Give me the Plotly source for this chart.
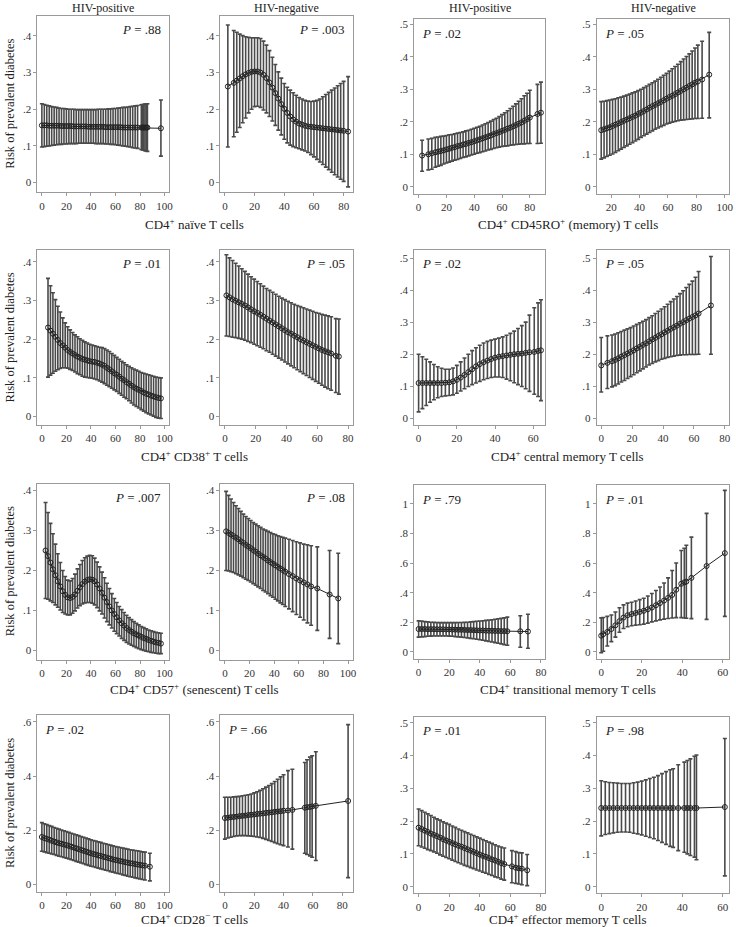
import plotly.graph_objects as go

# ---------------- data ----------------
# Row 1 left: CD4+ naive T cells
naive_pos_x = [0, 2, 4, 6, 8, 10, 12, 14, 16, 18, 20, 22, 24, 26, 28, 30, 32, 34, 36, 38, 40, 42, 44, 46, 48, 50, 52, 54, 56, 58, 60, 62, 64, 66, 68, 70, 72, 74, 76, 78, 81, 82, 83, 84, 85, 86, 97]
naive_pos_y = [.156, .156, .156, .155, .155, .155, .155, .155, .154, .154, .154, .154, .154, .153, .153, .153, .153, .153, .153, .152, .152, .152, .152, .152, .152, .152, .151, .151, .151, .151, .151, .151, .151, .150, .150, .150, .150, .150, .150, .150, .150, .150, .150, .150, .150, .150, .148]
naive_pos_hi = [.215, .213, .211, .209, .207, .206, .205, .203, .202, .202, .201, .200, .200, .200, .199, .199, .199, .199, .199, .199, .199, .199, .199, .200, .200, .200, .200, .201, .201, .202, .202, .203, .204, .205, .205, .206, .207, .208, .209, .210, .212, .213, .213, .214, .214, .215, .225]
naive_pos_lo = [.097, .098, .099, .100, .101, .102, .103, .104, .104, .105, .105, .106, .106, .106, .106, .107, .107, .107, .107, .107, .107, .107, .106, .106, .106, .106, .105, .105, .104, .104, .103, .102, .101, .100, .099, .098, .097, .095, .094, .093, .090, .089, .088, .087, .086, .085, .072]

naive_neg_x = [2, 6, 8, 10, 12, 14, 16, 18, 20, 22, 24, 26, 28, 30, 32, 34, 36, 38, 40, 42, 44, 46, 48, 50, 52, 54, 56, 58, 60, 62, 64, 66, 68, 70, 72, 74, 76, 78, 80, 83]
naive_neg_y = [.262, .272, .278, .284, .290, .295, .299, .302, .303, .303, .300, .294, .285, .273, .259, .244, .229, .214, .201, .190, .180, .172, .166, .161, .158, .155, .153, .152, .151, .150, .149, .148, .147, .146, .145, .144, .143, .142, .141, .139]
naive_neg_hi = [.430, .415, .410, .405, .401, .398, .396, .395, .395, .395, .393, .386, .375, .360, .342, .322, .302, .285, .270, .260, .252, .245, .238, .232, .228, .224, .222, .221, .222, .224, .228, .234, .240, .246, .252, .258, .264, .270, .276, .289]
naive_neg_lo = [.097, .125, .137, .150, .163, .176, .190, .200, .207, .208, .205, .198, .190, .180, .168, .156, .143, .130, .118, .108, .102, .098, .095, .092, .089, .086, .082, .076, .070, .063, .056, .049, .042, .035, .028, .021, .015, .009, .003, -.012]

# Row 1 right: CD4+ CD45RO+ (memory) T cells
memory_pos_x = [2.5, 7, 9.5, 12, 14, 16, 18, 20, 22, 24, 26, 28, 30, 32, 34, 36, 38, 40, 42, 44, 46, 48, 50, 52, 54, 56, 58, 60, 62, 64, 66, 68, 70, 72, 74, 76, 78, 80, 85.5, 88]
memory_pos_y = [.096, .100, .103, .106, .108, .110, .112, .115, .117, .120, .122, .125, .127, .130, .132, .135, .137, .140, .143, .146, .149, .152, .155, .158, .162, .165, .168, .172, .175, .179, .182, .186, .190, .194, .198, .203, .208, .213, .224, .228]
memory_pos_hi = [.143, .147, .149, .152, .153, .155, .156, .158, .160, .161, .163, .165, .167, .169, .172, .174, .177, .180, .183, .186, .190, .194, .198, .202, .207, .211, .216, .222, .228, .234, .241, .248, .255, .263, .271, .280, .288, .297, .315, .322]
memory_pos_lo = [.048, .052, .054, .060, .063, .066, .070, .073, .076, .079, .082, .084, .087, .090, .092, .095, .098, .100, .103, .105, .108, .110, .113, .115, .118, .120, .122, .124, .125, .126, .128, .129, .130, .131, .132, .132, .133, .133, .133, .134]

memory_neg_x = [13, 15, 17, 19, 21, 23, 25, 27, 29, 31, 33, 35, 37, 39, 41, 43, 45, 47, 49, 51, 53, 55, 57, 59, 61, 63, 65, 67, 69, 71, 73, 75, 77, 79, 81, 84, 89]
memory_neg_y = [.174, .177, .180, .183, .187, .191, .195, .199, .203, .207, .211, .215, .219, .224, .228, .233, .238, .243, .248, .252, .257, .261, .266, .271, .276, .280, .285, .290, .295, .300, .305, .310, .315, .320, .324, .330, .345]
memory_neg_hi = [.262, .263, .265, .267, .269, .271, .274, .276, .279, .282, .285, .289, .292, .296, .300, .305, .310, .315, .320, .325, .331, .337, .343, .349, .356, .363, .370, .377, .385, .393, .401, .409, .418, .427, .436, .448, .475]
memory_neg_lo = [.085, .089, .093, .097, .101, .106, .111, .116, .121, .126, .131, .136, .141, .146, .152, .157, .162, .167, .172, .177, .181, .185, .189, .193, .196, .199, .201, .203, .205, .206, .207, .208, .209, .210, .210, .211, .212]

# Row 2 left: CD4+ CD38+ T cells
cd38_pos_x = [5, 7, 9, 11, 13, 15, 17, 19, 21, 23, 25, 27, 29, 31, 33, 35, 37, 39, 41, 43, 45, 47, 49, 51, 53, 55, 57, 59, 61, 63, 65, 67, 69, 71, 73, 75, 77, 79, 81, 83, 85, 87, 89, 91, 93, 95, 97]
cd38_pos_y = [.230, .222, .214, .206, .198, .190, .184, .178, .172, .167, .163, .159, .155, .152, .149, .147, .145, .143, .142, .141, .139, .137, .134, .131, .126, .122, .117, .112, .108, .103, .098, .094, .089, .085, .080, .076, .072, .069, .066, .062, .059, .057, .054, .052, .050, .048, .047]
cd38_pos_hi = [.357, .338, .320, .302, .285, .270, .255, .242, .232, .224, .217, .211, .206, .201, .197, .193, .190, .187, .185, .183, .181, .179, .178, .176, .172, .168, .163, .158, .153, .148, .143, .139, .134, .130, .126, .123, .120, .117, .114, .112, .110, .108, .106, .104, .102, .101, .100]
cd38_pos_lo = [.102, .107, .112, .117, .121, .124, .126, .126, .125, .122, .119, .115, .111, .108, .104, .102, .101, .100, .099, .097, .095, .092, .089, .085, .081, .077, .073, .069, .065, .060, .055, .050, .046, .041, .035, .030, .026, .022, .018, .014, .010, .007, .004, .001, -.002, -.004, -.005]

cd38_neg_x = [1, 3, 5, 7, 9, 11, 13, 15, 17, 19, 21, 23, 25, 27, 29, 31, 33, 35, 37, 39, 41, 43, 45, 47, 49, 51, 53, 55, 57, 59, 61, 63, 65, 67, 69, 72, 74]
cd38_neg_y = [.313, .308, .303, .299, .295, .291, .287, .282, .277, .272, .268, .263, .258, .253, .248, .243, .238, .233, .228, .223, .218, .214, .209, .205, .200, .196, .192, .188, .184, .180, .176, .172, .169, .166, .163, .157, .155]
cd38_neg_hi = [.418, .410, .403, .396, .389, .382, .375, .368, .361, .355, .349, .343, .337, .331, .326, .321, .316, .311, .306, .302, .298, .294, .290, .287, .284, .281, .278, .275, .272, .269, .267, .264, .262, .260, .258, .253, .252]
cd38_neg_lo = [.208, .207, .205, .204, .202, .200, .197, .194, .191, .187, .183, .179, .175, .170, .166, .161, .156, .151, .146, .141, .136, .131, .126, .121, .116, .111, .106, .101, .096, .091, .086, .081, .076, .072, .068, .062, .058]

# Row 2 right: CD4+ central memory T cells
central_pos_x = [0, 2, 4, 6, 8, 10, 12, 14, 16, 18, 20, 22, 24, 26, 28, 30, 32, 34, 36, 38, 40, 42, 44, 46, 48, 50, 52, 54, 56, 58, 60.5, 62.5, 64]
central_pos_y = [.110, .110, .110, .110, .110, .110, .110, .111, .112, .115, .120, .127, .135, .144, .153, .162, .169, .175, .180, .185, .189, .192, .194, .196, .198, .200, .201, .202, .204, .206, .207, .210, .212]
central_pos_hi = [.200, .192, .184, .176, .168, .161, .156, .153, .153, .157, .165, .176, .188, .200, .211, .220, .228, .235, .240, .244, .247, .250, .254, .259, .265, .272, .280, .289, .300, .322, .345, .360, .370]
central_pos_lo = [.020, .030, .040, .050, .058, .064, .068, .070, .071, .073, .078, .085, .092, .099, .105, .110, .115, .120, .124, .127, .129, .129, .127, .122, .117, .111, .105, .099, .092, .084, .075, .068, .055]

central_neg_x = [0, 4, 7, 9, 11, 13, 15, 17, 19, 21, 23, 25, 27, 29, 31, 33, 35, 37, 39, 41, 43, 45, 47, 49, 51, 53, 55, 57, 59, 61, 63, 71]
central_neg_y = [.165, .173, .178, .182, .187, .192, .197, .202, .207, .212, .218, .223, .229, .234, .240, .246, .251, .257, .262, .268, .273, .279, .284, .289, .295, .300, .306, .311, .316, .321, .327, .352]
central_neg_hi = [.252, .257, .260, .263, .267, .271, .275, .279, .283, .288, .293, .298, .303, .308, .314, .320, .327, .334, .341, .348, .356, .364, .372, .380, .389, .398, .408, .418, .428, .440, .458, .505]
central_neg_lo = [.082, .093, .098, .102, .107, .113, .118, .124, .130, .136, .142, .148, .154, .160, .166, .171, .176, .180, .184, .187, .190, .192, .194, .196, .197, .198, .198, .199, .199, .199, .200, .200]

# Row 3 left: CD4+ CD57+ (senescent) T cells
cd57_pos_x = [3, 5, 7, 9, 11, 13, 15, 17, 19, 21, 23, 25, 27, 29, 31, 33, 35, 37, 39, 41, 43, 45, 47, 49, 51, 53, 55, 57, 59, 61, 63, 65, 67, 69, 71, 73, 75, 77, 79, 81, 83, 85, 87, 89, 91, 93, 95, 97]
cd57_pos_y = [.250, .236, .220, .203, .188, .173, .160, .148, .139, .133, .131, .134, .140, .149, .158, .166, .172, .176, .178, .177, .173, .165, .155, .144, .132, .121, .110, .100, .091, .083, .075, .068, .062, .056, .051, .047, .043, .040, .037, .034, .031, .029, .026, .024, .022, .020, .019, .017]
cd57_pos_hi = [.370, .345, .318, .292, .266, .242, .220, .200, .185, .176, .174, .180, .191, .204, .215, .225, .232, .236, .238, .237, .231, .221, .209, .196, .182, .168, .155, .142, .130, .120, .110, .102, .095, .088, .082, .077, .072, .068, .064, .060, .057, .054, .051, .049, .047, .045, .044, .043]
cd57_pos_lo = [.130, .128, .124, .120, .114, .108, .101, .095, .091, .089, .089, .093, .099, .106, .112, .116, .119, .120, .120, .118, .114, .107, .099, .091, .081, .072, .064, .056, .048, .042, .036, .030, .025, .020, .016, .013, .010, .007, .004, .002, .000, -.002, -.003, -.005, -.006, -.007, -.008, -.008]

cd57_neg_x = [1, 3, 5, 7, 9, 11, 13, 15, 17, 19, 21, 23, 25, 27, 29, 31, 33, 35, 37, 39, 41, 43, 45, 47, 49, 52, 55, 58, 61, 64, 67, 70, 75, 85, 92]
cd57_neg_y = [.298, .294, .290, .286, .282, .278, .273, .269, .264, .260, .256, .251, .247, .242, .238, .234, .230, .225, .221, .217, .213, .209, .205, .201, .197, .191, .186, .180, .175, .170, .165, .160, .155, .140, .130]
cd57_neg_hi = [.398, .388, .379, .370, .362, .355, .348, .341, .335, .330, .325, .320, .316, .312, .308, .304, .301, .298, .295, .292, .290, .287, .285, .283, .281, .278, .275, .272, .269, .266, .264, .262, .259, .250, .243]
cd57_neg_lo = [.200, .199, .197, .195, .192, .189, .186, .182, .178, .175, .171, .167, .163, .159, .155, .150, .146, .142, .137, .133, .128, .124, .119, .115, .110, .104, .097, .090, .083, .076, .069, .063, .050, .030, .017]

# Row 3 right: CD4+ transitional memory T cells
trans_pos_x = [0, 2, 4, 6, 8, 10, 12, 14, 16, 18, 20, 22, 24, 26, 28, 30, 32, 34, 36, 38, 40, 42, 44, 46, 48, 50, 52, 54, 56, 58, 66.5, 71.5]
trans_pos_y = [.155, .155, .155, .154, .154, .154, .153, .153, .153, .152, .152, .151, .151, .150, .150, .149, .148, .148, .147, .146, .145, .145, .144, .143, .143, .142, .142, .141, .141, .140, .140, .138]
trans_pos_hi = [.210, .208, .205, .203, .201, .200, .199, .198, .198, .198, .198, .198, .198, .199, .199, .200, .201, .203, .205, .207, .209, .211, .213, .216, .218, .221, .224, .227, .230, .235, .245, .255]
trans_pos_lo = [.100, .102, .104, .106, .107, .108, .108, .108, .108, .108, .107, .106, .104, .102, .100, .098, .095, .092, .089, .086, .083, .079, .075, .071, .067, .063, .059, .055, .050, .046, .032, .025]

trans_neg_x = [0, 1, 3, 5, 7, 9, 11, 13, 15, 17, 19, 21, 23, 25, 27, 29, 31, 33, 35, 37, 39.5, 41, 42, 44.5, 52, 61]
trans_neg_y = [.110, .120, .135, .155, .180, .208, .232, .248, .256, .263, .270, .278, .288, .300, .315, .330, .347, .365, .385, .420, .460, .470, .475, .500, .580, .667]
trans_neg_hi = [.230, .233, .240, .250, .270, .298, .318, .330, .336, .344, .353, .363, .378, .395, .415, .438, .465, .500, .550, .600, .685, .700, .720, .775, .935, 1.090]
trans_neg_lo = [-.005, .005, .040, .070, .100, .133, .158, .170, .177, .181, .184, .188, .195, .203, .210, .217, .222, .226, .229, .232, .232, .229, .228, .225, .220, .240]

# Row 4 left: CD4+ CD28- T cells
cd28_pos_x = [0, 2, 4, 6, 8, 10, 12, 14, 16, 18, 20, 22, 24, 26, 28, 30, 32, 34, 36, 38, 40, 42, 44, 46, 48, 50, 52, 54, 56, 58, 60, 62, 64, 66, 68, 70, 72, 74, 76, 78, 80, 82, 84, 88]
cd28_pos_y = [.175, .171, .168, .165, .161, .158, .155, .152, .150, .147, .145, .142, .139, .136, .133, .130, .127, .124, .121, .118, .115, .112, .110, .107, .105, .102, .100, .097, .095, .092, .090, .088, .086, .084, .082, .080, .078, .077, .075, .073, .072, .070, .069, .065]
cd28_pos_hi = [.228, .224, .221, .217, .214, .210, .207, .204, .201, .198, .195, .192, .189, .186, .183, .180, .177, .174, .171, .168, .165, .162, .160, .157, .155, .152, .150, .147, .145, .142, .140, .138, .136, .134, .132, .130, .128, .127, .125, .124, .122, .120, .119, .115]
cd28_pos_lo = [.122, .120, .117, .115, .112, .110, .107, .104, .102, .099, .097, .094, .091, .088, .085, .082, .079, .076, .073, .070, .067, .065, .062, .060, .057, .055, .052, .050, .047, .045, .042, .040, .038, .035, .033, .030, .028, .026, .024, .022, .020, .018, .016, .013]

cd28_neg_x = [0, 2, 4, 6, 8, 10, 12, 14, 16, 18, 20, 22, 24, 26, 28, 30, 32, 34, 36, 38, 40, 43, 46, 54.5, 56, 58, 59.5, 62, 84]
cd28_neg_y = [.245, .246, .248, .249, .250, .252, .253, .254, .256, .257, .258, .260, .261, .262, .264, .265, .266, .268, .269, .270, .272, .273, .275, .283, .285, .286, .288, .290, .308]
cd28_neg_hi = [.322, .322, .322, .323, .324, .325, .327, .329, .331, .334, .338, .342, .347, .353, .359, .365, .372, .380, .388, .397, .405, .420, .425, .450, .460, .470, .475, .490, .590]
cd28_neg_lo = [.167, .171, .174, .177, .179, .180, .180, .180, .179, .178, .177, .175, .173, .170, .166, .162, .158, .154, .150, .146, .143, .138, .130, .115, .110, .105, .100, .088, .025]

# Row 4 right: CD4+ effector memory T cells
effector_pos_x = [0, 2, 4, 6, 8, 10, 12, 14, 16, 18, 20, 22, 24, 26, 28, 30, 32, 34, 36, 38, 40, 42, 44, 46, 48, 50, 52, 54, 56, 61, 63.5, 65.5, 67.5, 71]
effector_pos_y = [.180, .176, .171, .167, .162, .158, .154, .150, .145, .141, .137, .133, .129, .125, .122, .118, .114, .110, .106, .102, .098, .094, .091, .087, .083, .080, .076, .072, .069, .062, .058, .056, .055, .050]
effector_pos_hi = [.237, .232, .227, .222, .217, .212, .207, .203, .198, .194, .190, .185, .181, .176, .172, .168, .164, .160, .156, .152, .148, .144, .140, .136, .132, .128, .124, .121, .118, .110, .107, .104, .103, .098]
effector_pos_lo = [.125, .121, .117, .113, .110, .106, .102, .097, .093, .089, .085, .081, .077, .073, .069, .065, .062, .058, .055, .051, .048, .044, .041, .037, .034, .030, .027, .023, .020, .012, .010, .008, .006, .003]

effector_neg_x = [0, 2, 4, 6, 8, 10, 12, 14, 16, 18, 20, 22, 24, 26, 28, 30, 32, 34, 35.5, 38, 41, 42.5, 44, 46, 47, 61]
effector_neg_y = [.240, .240, .240, .240, .240, .240, .240, .240, .240, .240, .240, .240, .240, .240, .240, .240, .240, .240, .240, .240, .240, .240, .240, .240, .240, .243]
effector_neg_hi = [.323, .320, .318, .317, .316, .315, .315, .315, .317, .319, .322, .326, .330, .334, .339, .345, .351, .357, .360, .372, .380, .385, .390, .398, .402, .452]
effector_neg_lo = [.155, .159, .162, .164, .166, .167, .167, .166, .163, .161, .158, .154, .150, .146, .141, .135, .129, .123, .120, .110, .105, .100, .095, .090, .082, .033]

# P values and labels
p_values = [".88", ".003", ".02", ".05",
            ".01", ".05", ".02", ".05",
            ".007", ".08", ".79", ".01",
            ".02", ".66", ".01", ".98"]
column_titles = ["HIV-positive", "HIV-negative", "HIV-positive", "HIV-negative"]
row_titles_left = ["CD4<sup>+</sup> naïve T cells", "CD4<sup>+</sup> CD38<sup>+</sup> T cells",
                   "CD4<sup>+</sup> CD57<sup>+</sup> (senescent) T cells", "CD4<sup>+</sup> CD28<sup>−</sup> T cells"]
row_titles_right = ["CD4<sup>+</sup> CD45RO<sup>+</sup> (memory) T cells", "CD4<sup>+</sup> central memory T cells",
                    "CD4<sup>+</sup> transitional memory T cells", "CD4<sup>+</sup> effector memory T cells"]
y_title = "Risk of prevalent diabetes"

xt_100 = [0, 20, 40, 60, 80, 100]
xt_80 = [0, 20, 40, 60, 80]
xt_60 = [0, 20, 40, 60]
xt_20_100 = [20, 40, 60, 80, 100]
yt_04 = [0, .1, .2, .3, .4]
yl_04 = ["0", ".1", ".2", ".3", ".4"]
yt_05 = [0, .1, .2, .3, .4, .5]
yl_05 = ["0", ".1", ".2", ".3", ".4", ".5"]
yt_1 = [0, .2, .4, .6, .8, 1]
yl_1 = ["0", ".2", ".4", ".6", ".8", "1"]
yt_06 = [0, .2, .4, .6]
yl_06 = ["0", ".2", ".4", ".6"]

series = [
    (naive_pos_x, naive_pos_y, naive_pos_lo, naive_pos_hi, xt_100),
    (naive_neg_x, naive_neg_y, naive_neg_lo, naive_neg_hi, xt_80),
    (memory_pos_x, memory_pos_y, memory_pos_lo, memory_pos_hi, xt_80),
    (memory_neg_x, memory_neg_y, memory_neg_lo, memory_neg_hi, xt_20_100),
    (cd38_pos_x, cd38_pos_y, cd38_pos_lo, cd38_pos_hi, xt_100),
    (cd38_neg_x, cd38_neg_y, cd38_neg_lo, cd38_neg_hi, xt_80),
    (central_pos_x, central_pos_y, central_pos_lo, central_pos_hi, xt_60),
    (central_neg_x, central_neg_y, central_neg_lo, central_neg_hi, xt_80),
    (cd57_pos_x, cd57_pos_y, cd57_pos_lo, cd57_pos_hi, xt_100),
    (cd57_neg_x, cd57_neg_y, cd57_neg_lo, cd57_neg_hi, xt_100),
    (trans_pos_x, trans_pos_y, trans_pos_lo, trans_pos_hi, xt_80),
    (trans_neg_x, trans_neg_y, trans_neg_lo, trans_neg_hi, xt_60),
    (cd28_pos_x, cd28_pos_y, cd28_pos_lo, cd28_pos_hi, xt_100),
    (cd28_neg_x, cd28_neg_y, cd28_neg_lo, cd28_neg_hi, xt_80),
    (effector_pos_x, effector_pos_y, effector_pos_lo, effector_pos_hi, xt_80),
    (effector_neg_x, effector_neg_y, effector_neg_lo, effector_neg_hi, xt_60),
]
for i, s in enumerate(series):
    n = len(s[0])
    if not (len(s[1]) == n and len(s[2]) == n and len(s[3]) == n):
        raise ValueError(f"series {i}: {n} {len(s[1])} {len(s[2])} {len(s[3])}")

# ---------------- layout geometry (pixels) ----------------
W, H = 736, 927
COLS = [(37.6, 170.0), (221.6, 354.5), (416.4, 548.4), (600.0, 733.3)]
ROWS_L = [(15.0, 191.7), (249.0, 424.3), (483.3, 659.3), (715.0, 891.7)]
ROWS_R = [(18.3, 193.3), (249.0, 424.0), (485.0, 658.3), (716.7, 893.3)]
YR_L = [(-0.0273, 0.4545), (-0.0214, 0.431), (-0.023, 0.417), (-0.0273, 0.6247)]
YR_R = [(-0.0225, 0.5154), (-0.0196, 0.526), (-0.0445, 1.1233), (-0.0204, 0.518)]
YT_L = [(yt_04, yl_04), (yt_04, yl_04), (yt_04, yl_04), (yt_06, yl_06)]
YT_R = [(yt_05, yl_05), (yt_05, yl_05), (yt_1, yl_1), (yt_05, yl_05)]
P_RIGHT = {0, 1, 4, 5, 8, 9}
FONT = "Liberation Serif"
PAD = 4.5
TXT = "#222"

fig = go.Figure()
layout = dict(
    width=W, height=H, margin=dict(l=0, r=0, t=0, b=0),
    paper_bgcolor="white", plot_bgcolor="white", showlegend=False,
    font=dict(family=FONT, size=11, color=TXT),
)
annotations = []


def px_x(p):
    return p / W


def px_y(p):
    return 1 - p / H


def label(x, y, text, size=12, xanchor="center", angle=0):
    return dict(x=px_x(x), y=px_y(y), xref="paper", yref="paper", text=text,
                showarrow=False, xanchor=xanchor, yanchor="middle", textangle=angle,
                font=dict(family=FONT, size=size, color=TXT))


for i, (xs, ys, lo, hi, xt) in enumerate(series):
    r, c = divmod(i, 4)
    left, right = COLS[c]
    top, bottom = (ROWS_L if c < 2 else ROWS_R)[r]
    yr = (YR_L if c < 2 else YR_R)[r]
    ytv, ytl = (YT_L if c < 2 else YT_R)[r]
    xmin = min(min(xs), xt[0])
    xmax = max(max(xs), xt[-1])
    scale = (right - left - 2 * PAD) / (xmax - xmin)
    xr = [xmin - PAD / scale, xmax + PAD / scale]
    k = "" if i == 0 else str(i + 1)
    axis_common = dict(showline=True, linecolor="#9a9a9a", linewidth=1, mirror=True,
                       ticks="outside", ticklen=3, tickcolor="#9a9a9a", tickwidth=1,
                       showgrid=False, zeroline=False,
                       tickfont=dict(family=FONT, size=11, color="#333"))
    layout["xaxis" + k] = dict(domain=[px_x(left), px_x(right)], range=xr,
                               anchor="y" + k, tickvals=xt, ticktext=[str(v) for v in xt],
                               **axis_common)
    layout["yaxis" + k] = dict(domain=[px_y(bottom), px_y(top)], range=list(yr),
                               anchor="x" + k, tickvals=ytv, ticktext=ytl,
                               **axis_common)
    fig.add_trace(go.Scatter(
        x=xs, y=ys, xaxis="x" + k, yaxis="y" + k, mode="lines+markers",
        line=dict(color="#222", width=1),
        marker=dict(symbol="circle-open", size=5, color="#222", line=dict(width=1)),
        error_y=dict(type="data", symmetric=False,
                     array=[h - v for h, v in zip(hi, ys)],
                     arrayminus=[v - l for v, l in zip(ys, lo)],
                     color="#4a4a4a", thickness=1.6, width=2),
        hoverinfo="skip",
    ))
    ptxt = "<i>P</i> = " + p_values[i]
    if i in P_RIGHT:
        annotations.append(label(right - 6, top + 14, ptxt, size=13, xanchor="right"))
    else:
        annotations.append(label(left + 6, top + 14, ptxt, size=13, xanchor="left"))

# column titles
for c in range(4):
    left, right = COLS[c]
    annotations.append(label((left + right) / 2, 7, column_titles[c]))

row_title_y = [223, 455, 689, 919]
row_ylabel_y = [103, 337, 571, 803]
for r in range(4):
    annotations.append(label(196, row_title_y[r], row_titles_left[r], size=13))
    annotations.append(label(571, row_title_y[r], row_titles_right[r], size=13))
    annotations.append(label(10, row_ylabel_y[r], y_title, size=12.5, angle=-90))

layout["annotations"] = annotations
fig.update_layout(**layout)
fig.write_html("out.html", config={"displayModeBar": False, "staticPlot": True},
               post_script="document.body.style.margin='0';document.body.style.overflow='hidden';")
